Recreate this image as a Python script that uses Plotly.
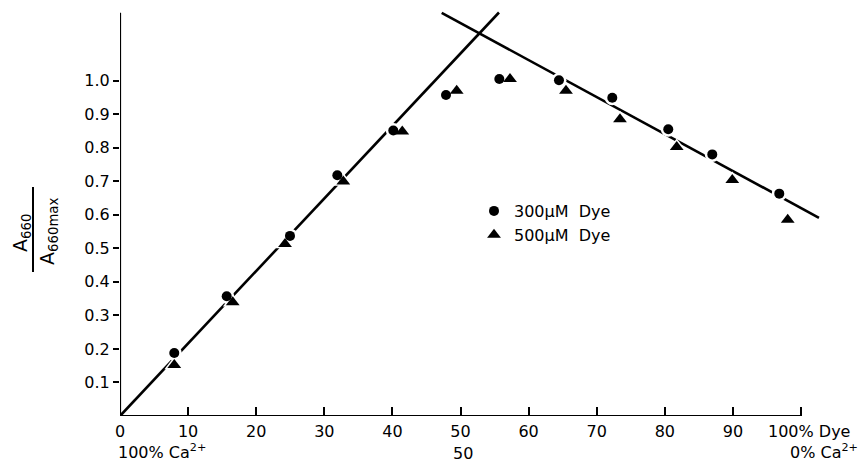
import plotly.graph_objects as go

# ---- data ----
x_300 = [7.97, 15.67, 24.96, 31.91, 40.13, 47.87, 55.70, 64.46, 72.29, 80.51, 86.97, 96.81]
y_300 = [0.188, 0.357, 0.537, 0.718, 0.851, 0.957, 1.005, 1.001, 0.949, 0.855, 0.780, 0.663]
x_500 = [7.97, 16.55, 24.23, 32.79, 41.45, 49.44, 57.27, 65.49, 73.42, 81.75, 89.91, 98.05]
y_500 = [0.152, 0.339, 0.513, 0.699, 0.848, 0.970, 1.005, 0.970, 0.885, 0.802, 0.704, 0.585]

# fitted straight lines (end points)
rise_x = [0.0, 55.65]
rise_y = [0.0, 1.203]
fall_x = [47.24, 102.64]
fall_y = [1.202, 0.591]

x_tickvals = [0, 10, 20, 30, 40, 50, 60, 70, 80, 90]
x_ticktext = ["0", "10", "20", "30", "40", "50", "60", "70", "80", "90"]
y_tickvals = [0.1, 0.2, 0.3, 0.4, 0.5, 0.6, 0.7, 0.8, 0.9, 1.0]
y_ticktext = ["0.1", "0.2", "0.3", "0.4", "0.5", "0.6", "0.7", "0.8", "0.9", "1.0"]

series_names = ["300\u03bcM  Dye", "500\u03bcM  Dye"]

# ---- layout geometry ----
W, H = 863, 463
ML, MR, MT, MB = 120, 35, 7, 47
PW, PH = W - ML - MR, H - MT - MB
FONT = "DejaVu Sans"
XSCALE = 6.81   # px per x unit
YSCALE = 335.4  # px per y unit


def px_x(p):
    return (p - ML) / PW


def px_y(p):
    return (H - MB - p) / PH


fig = go.Figure()

# straight lines
for lx, ly in [(rise_x, rise_y), (fall_x, fall_y)]:
    fig.add_trace(go.Scatter(x=lx, y=ly, mode="lines",
                             line=dict(color="black", width=2.6),
                             showlegend=False, hoverinfo="skip"))

# white halos (gaps in the line around the points)
fig.add_trace(go.Scatter(x=x_300, y=y_300, mode="markers",
                         marker=dict(symbol="circle", size=15, color="white"),
                         showlegend=False, hoverinfo="skip"))
fig.add_trace(go.Scatter(x=x_500, y=y_500, mode="markers",
                         marker=dict(symbol="triangle-up", size=17, color="white"),
                         showlegend=False, hoverinfo="skip"))

# data points
fig.add_trace(go.Scatter(x=x_300, y=y_300, mode="markers", name=series_names[0],
                         marker=dict(symbol="circle", size=10, color="black")))
fig.add_trace(go.Scatter(x=x_500, y=y_500, mode="markers", name=series_names[1],
                         marker=dict(symbol="triangle-up", size=12, color="black")))

shapes = [
    dict(type="line", xref="x", yref="y", x0=0, y0=0, x1=100, y1=0,
         line=dict(color="black", width=2.2)),
    dict(type="line", xref="x", yref="y", x0=0, y0=0, x1=0, y1=1.202,
         line=dict(color="black", width=2.2)),
    # extra tick at 100 (its label is the "100% Dye" annotation)
    dict(type="line", xref="x", yref="y", x0=100, x1=100, y0=0, y1=9 / YSCALE,
         line=dict(color="black", width=2)),
    # fraction bar of the y-axis title
    dict(type="line", xref="paper", yref="paper", x0=px_x(33), x1=px_x(33),
         y0=px_y(187), y1=px_y(272), line=dict(color="black", width=2)),
]

afont = dict(family=FONT, size=16, color="black")
annotations = [
    dict(text="100% Dye", x=100, y=0, xref="x", yref="y", xanchor="center",
         yanchor="middle", xshift=8, yshift=-15, showarrow=False, font=afont),
    dict(text="100% Ca<sup>2+</sup>", x=0, y=0, xref="x", yref="y", xanchor="left",
         yanchor="middle", xshift=-4, yshift=-35, showarrow=False, font=afont),
    dict(text="50", x=50, y=0, xref="x", yref="y", xanchor="center",
         yanchor="middle", xshift=2, yshift=-37, showarrow=False, font=afont),
    dict(text="0% Ca<sup>2+</sup>", x=100, y=0, xref="x", yref="y", xanchor="left",
         yanchor="middle", xshift=-13, yshift=-35, showarrow=False, font=afont),
    # y-axis title as a fraction
    dict(text="A<sub>660</sub>", x=px_x(21), y=px_y(233), xref="paper", yref="paper",
         xanchor="center", yanchor="middle", textangle=-90, showarrow=False,
         font=dict(family=FONT, size=19, color="black")),
    dict(text="A<sub>660</sub><sub>max</sub>", x=px_x(49), y=px_y(232),
         xref="paper", yref="paper", xanchor="center", yanchor="middle",
         textangle=-90, showarrow=False,
         font=dict(family=FONT, size=19, color="black")),
]

fig.update_layout(
    width=W, height=H,
    margin=dict(l=ML, r=MR, t=MT, b=MB, pad=0),
    paper_bgcolor="white", plot_bgcolor="white",
    font=dict(family=FONT, color="black", size=16),
    shapes=shapes, annotations=annotations,
    showlegend=True,
    legend=dict(x=px_x(474), y=px_y(194), xanchor="left", yanchor="top",
                bgcolor="rgba(0,0,0,0)", font=dict(family=FONT, size=16, color="black"),
                tracegroupgap=0, itemclick=False),
    xaxis=dict(range=[0, PW / XSCALE], showgrid=False, zeroline=False, showline=False,
               tickmode="array", tickvals=x_tickvals, ticktext=x_ticktext,
               ticks="inside", ticklen=9, tickwidth=2, tickcolor="black",
               ticklabelstandoff=4,
               tickfont=dict(family=FONT, size=16, color="black"), fixedrange=True),
    yaxis=dict(range=[0, PH / YSCALE], showgrid=False, zeroline=False, showline=False,
               tickmode="array", tickvals=y_tickvals, ticktext=y_ticktext,
               ticks="outside", ticklen=6, tickwidth=2, tickcolor="black",
               tickfont=dict(family=FONT, size=16, color="black"), fixedrange=True),
)

fig.write_html("out.html")
